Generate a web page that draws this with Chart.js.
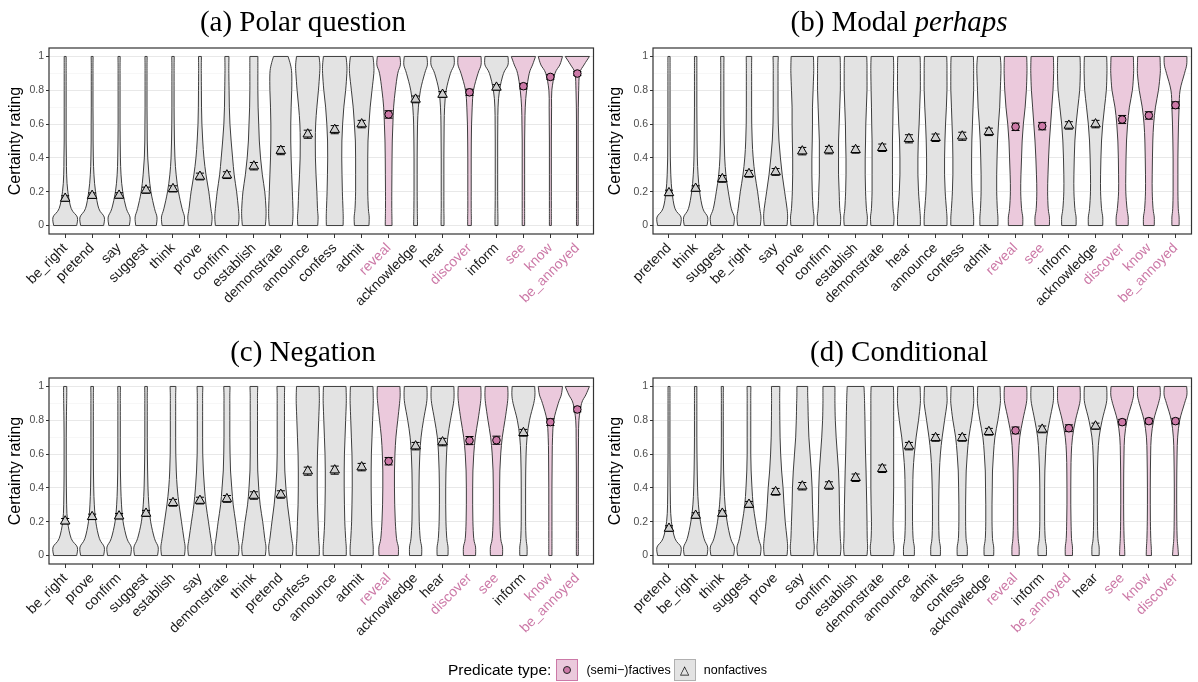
<!DOCTYPE html>
<html>
<head>
<meta charset="utf-8">
<script src="https://cdn.jsdelivr.net/npm/chart.js@4.4.1/dist/chart.umd.min.js"></script>
<style>
  body { margin: 0; background: #fff; width: 1198px; height: 682px; position: relative; overflow: hidden;
         font-family: "Liberation Sans", Arial, sans-serif; }
  .panel { position: absolute; height: 330px; }
  .panel canvas { position: absolute; left: 0; top: 0; }
  .ttl { position: absolute; left: 0; right: 0; top: 5px; text-align: center; line-height: 1;
         font: 29px "Liberation Serif", "Times New Roman", serif; color: #000; z-index: 2; }
  #legend { position: absolute; left: 448px; top: 659px; height: 22px; display: flex; align-items: center; color: #000; }
  #legend .lt { font-size: 15.5px; margin-right: 5px; }
  #legend .ll { font-size: 12.5px; margin: 0 3px 0 8px; }
  #legend .key { width: 20px; height: 20px; display: flex; align-items: center; justify-content: center; }
  #legend .pinkKey { background: #ebc9dc; border: 1px solid #cc79a7; }
  #legend .greyKey { background: #e3e3e3; border: 1px solid #b0b0b0; }
  #legend .dot { width: 6px; height: 6px; border-radius: 50%; background: #cc79a7; border: 1px solid #222; }
  #legend .tri { font-size: 12px; line-height: 1; }
</style>
</head>
<body>
<div class="panel" style="left:0;top:0;width:600px"><div class="ttl" style="padding-left:6px">(a) Polar question</div><canvas id="polar" width="600" height="330"></canvas></div>
<div class="panel" style="left:600px;top:0;width:598px"><div class="ttl" style="padding-left:0">(b) Modal <i>perhaps</i></div><canvas id="modal" width="598" height="330"></canvas></div>
<div class="panel" style="left:0;top:330px;width:600px"><div class="ttl" style="padding-left:6px">(c) Negation</div><canvas id="negation" width="600" height="330"></canvas></div>
<div class="panel" style="left:600px;top:330px;width:598px"><div class="ttl" style="padding-left:0">(d) Conditional</div><canvas id="conditional" width="598" height="330"></canvas></div>
<div id="legend">
  <span class="lt">Predicate type:</span>
  <span class="key pinkKey"><span class="dot"></span></span>
  <span class="ll">(semi&#8722;)factives</span>
  <span class="key greyKey"><span class="tri">&#9651;</span></span>
  <span class="ll">nonfactives</span>
</div>
<script>
// y levels at which the violin widths were read (0-10 = share of the max width)
const levels = [0, 0.05, 0.1, 0.2, 0.3, 0.4, 0.5, 0.6, 0.7, 0.8, 0.9, 0.95, 1];
const yTickValues = [0, 0.1, 0.2, 0.3, 0.4, 0.5, 0.6, 0.7, 0.8, 0.9, 1];
const yTickLabels = ["0", "", "0.2", "", "0.4", "", "0.6", "", "0.8", "", "1"];
const factives = ["reveal", "discover", "see", "know", "be_annoyed"];

// (a) Polar question
const polarLabels = ["be_right", "pretend", "say", "suggest", "think", "prove", "confirm", "establish", "demonstrate", "announce",
  "confess", "admit", "reveal", "acknowledge", "hear", "discover", "inform", "see", "know", "be_annoyed"];
const polarMeans = [0.16, 0.177, 0.178, 0.209, 0.217, 0.29, 0.298, 0.351, 0.443, 0.54, 0.567, 0.60, 0.657, 0.746, 0.775, 0.788, 0.817, 0.824, 0.879, 0.899];
const polarCI = [0.016, 0.016, 0.016, 0.018, 0.018, 0.02, 0.02, 0.022, 0.024, 0.024, 0.024, 0.022, 0.022, 0.02, 0.018, 0.018, 0.016, 0.016, 0.014, 0.012];
const polarWidths = [
  [9.5, 10, 5, 2.2, 1.2, 1, 0.8, 0.8, 0.8, 0.8, 0.8, 0.8, 0.8],
  [9.5, 10, 5.5, 2.8, 1.5, 1, 0.8, 0.8, 0.7, 0.7, 0.7, 0.7, 0.8],
  [8.5, 9, 6, 3, 1.6, 1.1, 0.9, 0.8, 0.8, 0.8, 0.8, 0.8, 0.9],
  [8.5, 9, 7, 4, 2.4, 1.4, 1, 0.9, 0.8, 0.8, 0.8, 0.8, 0.9],
  [9, 9.5, 7.5, 4.5, 2.6, 1.6, 1.2, 1, 0.9, 0.9, 0.9, 0.9, 1],
  [9.5, 10, 9, 7.3, 5, 3.3, 2.3, 1.6, 1.3, 1.2, 1.1, 1.1, 1.2],
  [9.5, 10, 9.5, 8, 6, 4.7, 3.5, 2.5, 2, 1.8, 1.6, 1.6, 1.7],
  [9.5, 10, 10, 9, 7, 5.5, 4.5, 4, 3.5, 3.3, 3.3, 3.3, 3.3],
  [9.5, 10, 10, 9.5, 9, 8.5, 8.2, 8.2, 8.5, 9, 9, 8, 6],
  [8.2, 8.5, 8, 7.5, 6.8, 6.3, 6.2, 6.5, 7.5, 8.8, 9.8, 10, 9.3],
  [6.9, 7, 6.8, 6.3, 6, 5.8, 5.9, 6.5, 7.5, 9, 10, 10, 9.3],
  [6, 6.2, 5.5, 5, 5, 5, 5.2, 6, 7, 8.5, 10, 10, 9.3],
  [2.8, 2.7, 2.6, 2.6, 2.7, 2.8, 3, 3.5, 4.1, 5.5, 7.5, 9.7, 9.3],
  [1.6, 1.5, 1.4, 1.3, 1.3, 1.3, 1.4, 1.6, 2.3, 4, 7.5, 9.7, 9.3],
  [1.2, 1.2, 1.1, 1.1, 1.1, 1.1, 1.2, 1.3, 1.7, 3, 6.5, 9.5, 9.5],
  [1.5, 1.5, 1.4, 1.4, 1.4, 1.4, 1.5, 1.7, 2.2, 3.3, 7, 9.5, 9.5],
  [1.2, 1.2, 1.1, 1, 1, 1, 1, 1.1, 1.3, 2.5, 5.8, 9.5, 9.5],
  [1, 1, 1, 1, 1, 1, 1, 1.2, 1.5, 2.6, 4.8, 7.5, 10],
  [0.8, 0.8, 0.8, 0.8, 0.8, 0.8, 0.8, 0.9, 1, 1.2, 3.8, 7.8, 10],
  [0.7, 0.7, 0.7, 0.7, 0.7, 0.7, 0.7, 0.7, 0.8, 1.1, 1.9, 5.5, 10]
];

// (b) Modal perhaps
const modalLabels = ["pretend", "think", "suggest", "be_right", "say", "prove", "confirm", "establish", "demonstrate", "hear",
  "announce", "confess", "admit", "reveal", "see", "inform", "acknowledge", "discover", "know", "be_annoyed"];
const modalMeans = [0.193, 0.219, 0.276, 0.306, 0.317, 0.44, 0.446, 0.448, 0.46, 0.513, 0.519, 0.528, 0.554, 0.584, 0.588, 0.592, 0.60, 0.627, 0.651, 0.712];
const modalCI = [0.016, 0.016, 0.02, 0.02, 0.02, 0.022, 0.022, 0.02, 0.022, 0.024, 0.022, 0.024, 0.022, 0.022, 0.022, 0.022, 0.022, 0.024, 0.022, 0.02];
const modalWidths = [
  [9.5, 10, 5, 2.5, 1.5, 1.1, 1, 0.9, 0.9, 0.9, 0.9, 0.9, 0.9],
  [9.5, 10, 6, 3.3, 2, 1.4, 1.2, 1.1, 1, 1, 1, 1, 1],
  [9.5, 10, 7.5, 5, 3, 2, 1.6, 1.4, 1.3, 1.3, 1.3, 1.3, 1.4],
  [9.5, 10, 9, 7.2, 5, 3.5, 2.7, 2.3, 2.2, 2.2, 2.2, 2.2, 2.3],
  [9.5, 10, 9.5, 7.5, 5.5, 4, 2.8, 2.2, 2, 2, 2, 2, 2.2],
  [9.5, 9.8, 9, 8.3, 8, 8, 8.3, 8.5, 8.5, 9, 9.5, 9.5, 9.3],
  [9.5, 9.8, 9, 8.5, 8, 8, 8, 8.5, 9, 9.5, 9.5, 9.5, 9.3],
  [9.5, 9.8, 9, 8.3, 8, 8, 8.3, 8.5, 9, 9.5, 9.5, 9.5, 9.3],
  [9.5, 9.8, 9, 8.5, 8.5, 8.5, 8.5, 8.8, 9, 9.3, 9.5, 9.5, 9.3],
  [9.5, 9.5, 9, 8, 7.5, 7.5, 7.8, 8.5, 9, 9.5, 9.5, 9.5, 9.3],
  [9.5, 9.5, 9, 8, 7.5, 7.5, 7.8, 8.3, 9, 9.5, 9.5, 9.5, 9.3],
  [9.5, 9.5, 9, 8.2, 7.8, 7.8, 8, 8.5, 9, 9.5, 9.5, 9.5, 9.3],
  [7.5, 7.5, 7, 6.5, 6.5, 6.8, 7.2, 8, 9, 9.5, 10, 10, 9.5],
  [6, 6, 5, 4.3, 4.5, 5, 5.5, 6.5, 8, 9, 9.5, 9.5, 9.3],
  [6, 6, 5, 4.5, 4.8, 5.3, 6, 7, 8, 9, 9.5, 9.5, 9.3],
  [6, 6, 5, 4.2, 4.2, 4.5, 5, 6, 7.5, 9, 9.5, 9.5, 9.3],
  [6, 6, 5, 4.2, 4.2, 4.5, 5, 6, 7.5, 9, 9.5, 9.5, 9.3],
  [5, 5, 4, 3, 3, 3.2, 3.6, 4.5, 6, 8.5, 9.5, 9.5, 9.3],
  [4.5, 4.5, 3.5, 2.8, 2.8, 3, 3.3, 4, 5.5, 8, 9.5, 9.5, 9.3],
  [3, 3, 2.3, 2, 2, 2, 2.2, 2.5, 3, 3.8, 7.5, 9.3, 9.5]
];

// (c) Negation
const negLabels = ["be_right", "prove", "confirm", "suggest", "establish", "say", "demonstrate", "think", "pretend", "confess",
  "announce", "admit", "reveal", "acknowledge", "hear", "discover", "see", "inform", "know", "be_annoyed"];
const negMeans = [0.203, 0.229, 0.233, 0.249, 0.312, 0.325, 0.335, 0.355, 0.361, 0.499, 0.505, 0.523, 0.558, 0.647, 0.671, 0.68, 0.682, 0.726, 0.789, 0.864];
const negCI = [0.016, 0.016, 0.016, 0.018, 0.02, 0.02, 0.02, 0.022, 0.022, 0.024, 0.024, 0.022, 0.022, 0.022, 0.022, 0.024, 0.024, 0.02, 0.02, 0.014];
const negWidths = [
  [9.5, 10, 5, 2, 1.2, 1, 0.9, 0.9, 0.9, 1, 1.2, 1.3, 1.3],
  [9.5, 10, 6, 3, 1.8, 1.3, 1.1, 1, 1, 1, 1, 1, 1.1],
  [9.5, 10, 6.5, 3.3, 2, 1.4, 1.1, 1, 1, 1, 1, 1, 1.1],
  [9.5, 10, 7, 3.8, 2.3, 1.6, 1.3, 1.1, 1, 1, 1, 1, 1.1],
  [9.5, 10, 9, 7, 5, 3.5, 2.7, 2.3, 2.2, 2.2, 2.2, 2.2, 2.4],
  [9.5, 10, 9, 7, 5, 3.7, 2.8, 2.3, 2.2, 2.2, 2.2, 2.2, 2.4],
  [9.5, 10, 9, 7.2, 5.2, 4, 3, 2.6, 2.4, 2.4, 2.4, 2.4, 2.6],
  [9.5, 10, 9, 7.3, 5.2, 4, 3.2, 3, 3, 3, 3, 3, 3.2],
  [9.5, 10, 9, 7.3, 5.5, 4.2, 3.3, 3, 3, 3, 3, 3, 3.2],
  [9.5, 9.5, 9, 8.5, 8, 7.8, 7.8, 8, 8.5, 9, 9.5, 9.5, 9.3],
  [9.5, 9.5, 9, 8.3, 8, 7.8, 7.8, 8, 8.5, 9, 9.5, 9.5, 9.3],
  [9.5, 9.5, 9, 8.3, 8, 7.8, 7.8, 8, 8.5, 9, 9.5, 9.5, 9.3],
  [8, 8, 6.5, 5.5, 5, 4.8, 4.8, 5.2, 6, 7.5, 9, 9.5, 9.3],
  [5, 5, 3.8, 3, 2.8, 2.8, 3, 3.5, 4.5, 6.5, 9, 9.5, 9.3],
  [4.5, 4.5, 3.5, 2.8, 2.6, 2.6, 2.8, 3.3, 4.3, 6.5, 9, 9.5, 9.3],
  [5, 5, 3.5, 2.8, 2.6, 2.6, 2.8, 3.5, 4.8, 7, 9, 9.5, 9.3],
  [5, 5, 3.5, 2.8, 2.6, 2.6, 2.8, 3.5, 4.8, 7, 9, 9.5, 9.3],
  [3, 3, 2.2, 1.8, 1.8, 1.8, 1.9, 2.2, 3, 5, 8.5, 9.5, 9.3],
  [1.3, 1.3, 1.3, 1.3, 1.3, 1.3, 1.4, 1.5, 1.8, 2.8, 6.5, 9, 10],
  [0.8, 0.8, 0.8, 0.8, 0.8, 0.8, 0.8, 0.9, 1, 1.3, 3.5, 7, 10]
];

// (d) Conditional
const condLabels = ["pretend", "be_right", "think", "suggest", "prove", "say", "confirm", "establish", "demonstrate", "announce",
  "admit", "confess", "acknowledge", "reveal", "inform", "be_annoyed", "hear", "see", "know", "discover"];
const condMeans = [0.16, 0.237, 0.249, 0.302, 0.377, 0.41, 0.414, 0.46, 0.513, 0.647, 0.696, 0.696, 0.732, 0.74, 0.746, 0.753, 0.765, 0.789, 0.795, 0.795];
const condCI = [0.016, 0.016, 0.016, 0.018, 0.02, 0.022, 0.022, 0.022, 0.022, 0.022, 0.02, 0.02, 0.02, 0.02, 0.02, 0.02, 0.018, 0.016, 0.016, 0.016];
const condWidths = [
  [9.5, 10, 5, 2, 1.2, 1, 0.9, 0.8, 0.8, 0.8, 0.8, 0.8, 0.8],
  [9.5, 10, 7, 4, 2.3, 1.6, 1.3, 1.1, 1, 1, 1, 1, 1],
  [9.5, 10, 7, 4, 2.3, 1.5, 1.1, 0.9, 0.8, 0.8, 0.8, 0.8, 0.9],
  [9.5, 10, 8, 5.5, 3.5, 2.5, 1.8, 1.5, 1.5, 1.5, 1.5, 1.5, 1.6],
  [9.5, 10, 9.5, 8, 7, 6.2, 5, 4.2, 3.7, 3.5, 3.4, 3.4, 3.5],
  [9.5, 10, 9.5, 9, 8.5, 8.2, 7.5, 6.5, 5.5, 5, 4.7, 4.5, 4.5],
  [9.5, 10, 9.5, 9, 8.7, 8.5, 8, 7, 6, 5.3, 5, 5, 5],
  [9.5, 10, 9.7, 9.5, 9.3, 9, 8.7, 8.3, 8, 7.8, 7.5, 7.3, 7],
  [9.5, 10, 9.3, 9, 9.3, 9.5, 9.5, 9.5, 9.5, 9.5, 9.5, 9.5, 9.3],
  [4.5, 4.5, 3.5, 3, 3, 3.2, 3.5, 4.5, 6, 8, 9.5, 9.5, 9.3],
  [4, 4, 3, 2.6, 2.6, 2.8, 3.2, 4, 5.5, 7.5, 9.5, 9.5, 9.3],
  [4.2, 4.2, 3.2, 2.8, 2.8, 3, 3.3, 4.2, 5.5, 7.8, 9.5, 9.5, 9.3],
  [4, 4, 3, 2.6, 2.6, 2.8, 3, 3.8, 5, 7.5, 9.5, 9.5, 9.3],
  [3, 3, 2.2, 1.8, 1.8, 1.8, 2, 2.5, 3.5, 6, 9, 9.5, 9.3],
  [3.5, 3.5, 2.5, 2, 2, 2, 2.2, 2.8, 3.8, 6.2, 9, 9.5, 9.3],
  [3, 3, 2.2, 1.8, 1.6, 1.6, 1.7, 2, 3, 5.5, 9, 9.5, 9.3],
  [3, 3, 2, 1.6, 1.5, 1.5, 1.6, 2, 3, 5.5, 9, 9.5, 9.3],
  [2.2, 2, 1.6, 1.3, 1.2, 1.2, 1.3, 1.5, 2, 4, 8, 9.5, 9.3],
  [2.2, 2, 1.6, 1.3, 1.2, 1.2, 1.3, 1.5, 2, 4, 8, 9.5, 9.3],
  [2.5, 2, 1.4, 1.1, 1, 1, 1.1, 1.3, 1.8, 3.5, 7.5, 9.5, 9.3]
];

const pink = "#cc79a7";
const pinkFill = "#ebc9dc";
const greyFill = "#e3e3e3";
const outline = "#3d3d3d";
const sans = "'Liberation Sans', Arial, sans-serif";
const halfMax = 0.45;   // half of the widest violin, in category units
const capHalf = 0.15;   // half width of the error bar caps

// smooth curve through a list of pixel points (Catmull-Rom)
function curveThrough(ctx, pts) {
  for (let k = 0; k < pts.length - 1; k++) {
    const p0 = pts[k - 1] || pts[k], p1 = pts[k], p2 = pts[k + 1], p3 = pts[k + 2] || pts[k + 1];
    ctx.bezierCurveTo(p1[0] + (p2[0] - p0[0]) / 6, p1[1] + (p2[1] - p0[1]) / 6,
                      p2[0] - (p3[0] - p1[0]) / 6, p2[1] - (p3[1] - p1[1]) / 6, p2[0], p2[1]);
  }
}

function violinPlugin(labels, widths) {
  return {
    id: "violins",
    beforeDatasetsDraw(chart) {
      const { ctx, chartArea: a, scales: { x, y } } = chart;
      ctx.save();
      ctx.beginPath();
      ctx.rect(a.left, a.top, a.width, a.height);
      ctx.clip();
      widths.forEach((w, i) => {
        const right = levels.map((lv, k) => [x.getPixelForValue(i + w[k] / 10 * halfMax), y.getPixelForValue(lv)]);
        const left = levels.map((lv, k) => [x.getPixelForValue(i - w[k] / 10 * halfMax), y.getPixelForValue(lv)]).reverse();
        ctx.beginPath();
        ctx.moveTo(right[0][0], right[0][1]);
        curveThrough(ctx, right);
        ctx.lineTo(left[0][0], left[0][1]);
        curveThrough(ctx, left);
        ctx.closePath();
        ctx.fillStyle = factives.includes(labels[i]) ? pinkFill : greyFill;
        ctx.fill();
        ctx.lineWidth = 1;
        ctx.strokeStyle = outline;
        ctx.stroke();
      });
      ctx.restore();
    }
  };
}

const panelBorder = {
  id: "panelBorder",
  afterDraw(chart) {
    const { ctx, chartArea: a } = chart;
    ctx.save();
    ctx.strokeStyle = "#333";
    ctx.lineWidth = 1.2;
    ctx.strokeRect(a.left, a.top, a.width, a.height);
    ctx.restore();
  }
};

function buildPanel(id, labels, means, ci, widths, axisWidth, rightPad) {
  const isFact = labels.map(l => factives.includes(l));
  const bars = [];
  means.forEach((m, i) => {
    const lo = m - ci[i], hi = m + ci[i];
    bars.push({ x: i, y: lo }, { x: i, y: hi }, { x: i, y: null },
              { x: i - capHalf, y: lo }, { x: i + capHalf, y: lo }, { x: i, y: null },
              { x: i - capHalf, y: hi }, { x: i + capHalf, y: hi }, { x: i, y: null });
  });

  new Chart(document.getElementById(id), {
    type: "scatter",
    data: {
      datasets: [
        {
          data: means.map((m, i) => ({ x: i, y: m })),
          pointStyle: isFact.map(f => f ? "circle" : "triangle"),
          pointRadius: isFact.map(f => f ? 3.8 : 5.5),
          backgroundColor: isFact.map(f => f ? pink : "#cfcfcf"),
          borderColor: "#000",
          borderWidth: 1,
          order: 0
        },
        {
          type: "line",
          data: bars,
          borderColor: "#000",
          borderWidth: 1,
          pointRadius: 0,
          fill: false,
          tension: 0,
          spanGaps: false,
          order: 1
        }
      ]
    },
    options: {
      responsive: false,
      animation: false,
      events: [],
      layout: { padding: { left: 0, right: rightPad, top: 48, bottom: 0 } },
      plugins: { legend: { display: false }, tooltip: { enabled: false }, title: { display: false } },
      scales: {
        x: {
          type: "linear",
          min: -0.6,
          max: 19.6,
          afterBuildTicks: s => { s.ticks = labels.map((l, i) => ({ value: i })); },
          afterFit: s => { s.height = 96; s.paddingLeft = 0; s.paddingRight = 0; },
          ticks: {
            autoSkip: false,
            minRotation: 45,
            maxRotation: 45,
            padding: 2,
            callback: (v, i) => labels[i],
            color: c => isFact[c.index] ? pink : "#1a1a1a",
            font: { family: sans, size: 14 }
          },
          grid: { drawOnChartArea: false, drawTicks: true, tickLength: 4, color: "#333" },
          border: { display: false }
        },
        y: {
          type: "linear",
          min: -0.05,
          max: 1.05,
          afterBuildTicks: s => { s.ticks = yTickValues.map(v => ({ value: v })); },
          afterFit: s => { s.width = axisWidth; s.paddingTop = 0; s.paddingBottom = 0; },
          ticks: {
            callback: (v, i) => yTickLabels[i],
            color: "#4d4d4d",
            padding: 2,
            font: { family: sans, size: 10.5 }
          },
          grid: {
            color: c => c.index % 2 === 0 ? "#e8e8e8" : "#f3f3f3",
            lineWidth: c => c.index % 2 === 0 ? 1 : 0.7,
            tickColor: c => c.index % 2 === 0 ? "#333" : "rgba(0,0,0,0)",
            tickLength: 3
          },
          border: { display: false },
          title: {
            display: true,
            text: "Certainty rating",
            color: "#000",
            font: { family: sans, size: 16 },
            padding: { top: 6, bottom: 0 }
          }
        }
      }
    },
    plugins: [violinPlugin(labels, widths), panelBorder]
  });
}

buildPanel("polar", polarLabels, polarMeans, polarCI, polarWidths, 49, 6);
buildPanel("modal", modalLabels, modalMeans, modalCI, modalWidths, 53, 1);
buildPanel("negation", negLabels, negMeans, negCI, negWidths, 49, 6);
buildPanel("conditional", condLabels, condMeans, condCI, condWidths, 53, 1);
</script>
</body>
</html>
